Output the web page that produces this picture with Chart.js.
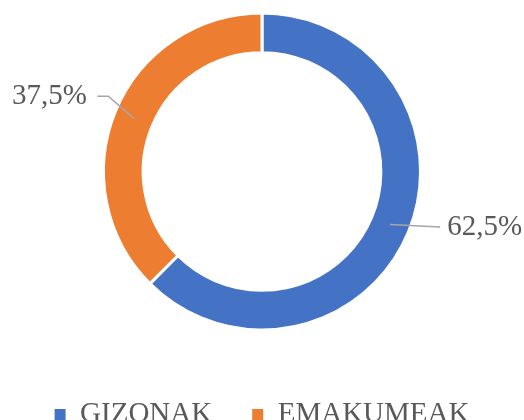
<!DOCTYPE html>
<html><head><meta charset="utf-8">
<script src="https://cdn.jsdelivr.net/npm/chart.js@4"></script>
<style>
html,body{margin:0;padding:0;overflow:hidden;background:#fff;width:524px;height:420px;}
#wrap{position:absolute;left:0;top:-17px;width:524px;height:456px;}
canvas{display:block;}
</style></head><body>
<div id="wrap"><canvas id="c" width="524" height="456"></canvas></div>
<script>
const categories = ['GIZONAK', 'EMAKUMEAK'];
const values = [62.5, 37.5];
const colors = ['#4472C4', '#ED7D31'];

const FONT_FAMILY = '"Liberation Serif", "Times New Roman", serif';
const TEXT_COLOR = '#595959';

function formatPct(v) { return v.toFixed(1).replace('.', ',') + '%'; }

const labelPlugin = {
  id: 'sliceLabels',
  afterDatasetsDraw(chart, args, opts) {
    const ctx = chart.ctx;
    const meta = chart.getDatasetMeta(0);
    const data = chart.data.datasets[0].data;
    meta.data.forEach((arc, i) => {
      const p = arc.getProps(['x', 'y', 'startAngle', 'endAngle', 'innerRadius', 'outerRadius'], true);
      const mid = (p.startAngle + p.endAngle) / 2;
      const r = (p.innerRadius + p.outerRadius) / 2;
      const ax = p.x + Math.cos(mid) * r, ay = p.y + Math.sin(mid) * r;
      const spec = opts.placements[i];
      ctx.save();
      ctx.strokeStyle = opts.lineColor;
      ctx.lineWidth = opts.lineWidth;
      ctx.beginPath();
      ctx.moveTo(ax, ay);
      spec.path.forEach(([dx, dy]) => ctx.lineTo(ax + dx, ay + dy));
      ctx.stroke();
      ctx.fillStyle = opts.color;
      ctx.font = opts.font;
      ctx.textAlign = spec.align;
      ctx.textBaseline = 'middle';
      ctx.fillText(formatPct(data[i]), ax + spec.text[0], ay + spec.text[1]);
      ctx.restore();
    });
  }
};

new Chart(document.getElementById('c'), {
  type: 'doughnut',
  data: {
    labels: categories,
    datasets: [{
      data: values,
      backgroundColor: colors,
      borderColor: '#ffffff',
      borderWidth: 3,
      radius: 158.5,
      cutout: '75%'
    }]
  },
  options: {
    responsive: false,
    animation: false,
    layout: { padding: 0 },
    plugins: {
      tooltip: { enabled: false },
      legend: {
        position: 'bottom',
        labels: {
          boxWidth: 11,
          boxHeight: 11,
          padding: 40,
          color: TEXT_COLOR,
          font: { family: FONT_FAMILY, size: 29 },
          generateLabels(chart) {
            const base = Chart.overrides.doughnut.plugins.legend.labels.generateLabels(chart);
            return base.map(l => Object.assign(l, { lineWidth: 0 }));
          }
        }
      },
      sliceLabels: {
        font: '29px ' + FONT_FAMILY,
        color: TEXT_COLOR,
        lineColor: '#A6A6A6',
        lineWidth: 1.5,
        placements: [
          { path: [[50, 2.4]], text: [57, 2.5], align: 'left' },
          { path: [[-25.6, -22.3], [-36.6, -22.3]], text: [-47, -21.6], align: 'right' }
        ]
      }
    }
  },
  plugins: [labelPlugin]
});
</script>
</body></html>
